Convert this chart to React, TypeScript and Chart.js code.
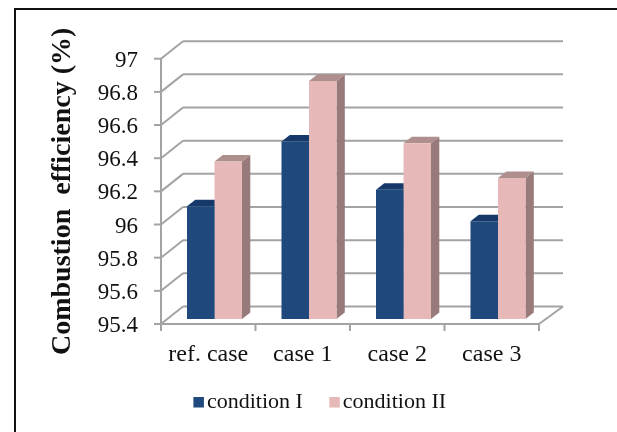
import React, { useEffect, useRef } from "react";
import { Chart, registerables } from "chart.js";

Chart.register(...registerables);

const categories = ["ref. case", "case 1", "case 2", "case 3"];
const conditionI = [96.08, 96.47, 96.18, 95.99];
const conditionII = [96.35, 96.835, 96.46, 96.25];
const seriesColors = ["#1f497d", "#e6b9b8"];
const SERIF = "'Liberation Serif', 'Times New Roman', serif";

// projection offsets of the 3D look
const WALL = { dx: 22, dy: -17.5 };
const BAR_SHIFT = { dx: 6.25, dy: -5 };
const BAR_DEPTH = { dx: 8.3, dy: -6.5 };
const GRID = "#a3a3a3";
const FACES = [
  { top: "#17396a", side: "#163a66" },
  { top: "#ae8f8d", side: "#977a79" },
];

const depthPlugin = {
  id: "depth",
  beforeDraw(chart: any) {
    // tick labels sit slightly under their tick level in the reference
    chart.scales.y.getLabelItems(chart.chartArea).forEach((item: any) => {
      item.options.translation[1] += 2;
    });
  },
  beforeDatasetsDraw(chart: any) {
    const { ctx, chartArea, scales } = chart;
    const { left, right, bottom } = chartArea;
    ctx.save();
    ctx.strokeStyle = GRID;
    ctx.lineWidth = 2;
    const line = (x1: number, y1: number, x2: number, y2: number) => {
      ctx.beginPath();
      ctx.moveTo(x1, y1);
      ctx.lineTo(x2, y2);
      ctx.stroke();
    };
    scales.y.ticks.forEach((t: any) => {
      const y = scales.y.getPixelForValue(t.value);
      line(left - 7, y, left, y);
      line(left, y, left + WALL.dx, y + WALL.dy);
      line(left + WALL.dx, y + WALL.dy, right + WALL.dx + 2, y + WALL.dy);
    });
    line(left, chartArea.top, left, bottom + 1);
    line(left, bottom, right, bottom);
    line(right, bottom, right + WALL.dx + 2, bottom + WALL.dy);
    for (let i = 0; i <= categories.length; i++) {
      const x = left + ((right - left) * i) / categories.length;
      line(x, bottom, x, bottom + 7);
    }
    // bar side and top faces
    ctx.translate(BAR_SHIFT.dx, BAR_SHIFT.dy);
    chart.data.datasets.forEach((_: any, d: number) => {
      chart.getDatasetMeta(d).data.forEach((bar: any) => {
        const l = bar.x - bar.width / 2;
        const r = bar.x + bar.width / 2;
        const base = Math.min(bar.base, bottom);
        ctx.fillStyle = FACES[d].side;
        ctx.beginPath();
        ctx.moveTo(r, bar.y);
        ctx.lineTo(r + BAR_DEPTH.dx, bar.y + BAR_DEPTH.dy);
        ctx.lineTo(r + BAR_DEPTH.dx, base + BAR_DEPTH.dy);
        ctx.lineTo(r, base);
        ctx.closePath();
        ctx.fill();
        ctx.fillStyle = FACES[d].top;
        ctx.beginPath();
        ctx.moveTo(l, bar.y);
        ctx.lineTo(l + BAR_DEPTH.dx, bar.y + BAR_DEPTH.dy);
        ctx.lineTo(r + BAR_DEPTH.dx, bar.y + BAR_DEPTH.dy);
        ctx.lineTo(r, bar.y);
        ctx.closePath();
        ctx.fill();
      });
    });
    ctx.restore();
  },
  beforeDatasetDraw(chart: any) {
    chart.ctx.save();
    chart.ctx.translate(BAR_SHIFT.dx, BAR_SHIFT.dy);
  },
  afterDatasetDraw(chart: any) {
    chart.ctx.restore();
  },
  afterDraw(chart: any) {
    // legend swatches hug their text, closer than the native gap allows
    const { ctx, legend } = chart;
    legend.legendHitBoxes.forEach((box: any, i: number) => {
      ctx.fillStyle = seriesColors[i];
      ctx.fillRect(box.left + 8.5, box.top + box.height / 2 - 5, 10.5, 10.5);
    });
  },
};

export default function App() {
  const ref = useRef<HTMLCanvasElement>(null);
  useEffect(() => {
    document.body.style.margin = "0";
    document.body.style.background = "#fff";
    const chart = new Chart(ref.current as HTMLCanvasElement, {
      type: "bar",
      plugins: [depthPlugin],
      data: {
        labels: categories,
        datasets: [
          { label: "condition I", data: conditionI, backgroundColor: seriesColors[0] },
          { label: "condition II", data: conditionII, backgroundColor: seriesColors[1] },
        ],
      },
      options: {
        responsive: false,
        animation: false,
        layout: { padding: { left: 14, right: 0, top: 58.7, bottom: 9 } },
        datasets: { bar: { categoryPercentage: 0.582, barPercentage: 1 } },
        plugins: {
          tooltip: { enabled: false },
          legend: {
            position: "bottom",
            labels: {
              boxWidth: 11,
              boxHeight: 11,
              padding: 18,
              color: "#111",
              font: { family: SERIF, size: 22 },
              generateLabels: (c: any) =>
                Chart.defaults.plugins.legend.labels.generateLabels(c).map((item: any) => ({
                  ...item,
                  fillStyle: "rgba(0,0,0,0)",
                  strokeStyle: "rgba(0,0,0,0)",
                  lineWidth: 0,
                })),
            },
          },
        },
        scales: {
          x: {
            grid: { display: false, drawTicks: false },
            border: { display: false },
            ticks: { color: "#111", padding: 16, maxRotation: 0, font: { family: SERIF, size: 24 } },
            afterFit(s: any) {
              s.height = 49;
            },
          },
          y: {
            min: 95.4,
            max: 97,
            grid: { display: false, drawTicks: false },
            border: { display: false },
            ticks: {
              stepSize: 0.2,
              color: "#111",
              padding: 23,
              font: { family: SERIF, size: 23 },
              callback: (v: any) => String(Number(Number(v).toFixed(1))),
            },
            title: {
              display: true,
              text: "Combustion  efficiency (%)",
              color: "#111",
              padding: { top: 32, bottom: 0 },
              font: { family: SERIF, size: 28, weight: "bold" },
            },
            afterFit(s: any) {
              s.width = 147;
            },
          },
          spacer: {
            position: "right",
            grid: { display: false, drawTicks: false },
            border: { display: false },
            ticks: { display: false },
            afterFit(s: any) {
              s.width = 78;
            },
          },
        },
      } as any,
    });
    return () => chart.destroy();
  }, []);
  return (
    <div style={{ position: "absolute", left: 0, top: 0, width: 617, height: 432, background: "#fff", overflow: "hidden" }}>
      <canvas ref={ref} width={617} height={432} style={{ display: "block", filter: "blur(0.5px)" }} />
      <div style={{ position: "absolute", left: 14, top: 8, width: 603, height: 424, borderLeft: "2px solid #111", borderTop: "2px solid #111" }} />
    </div>
  );
}
